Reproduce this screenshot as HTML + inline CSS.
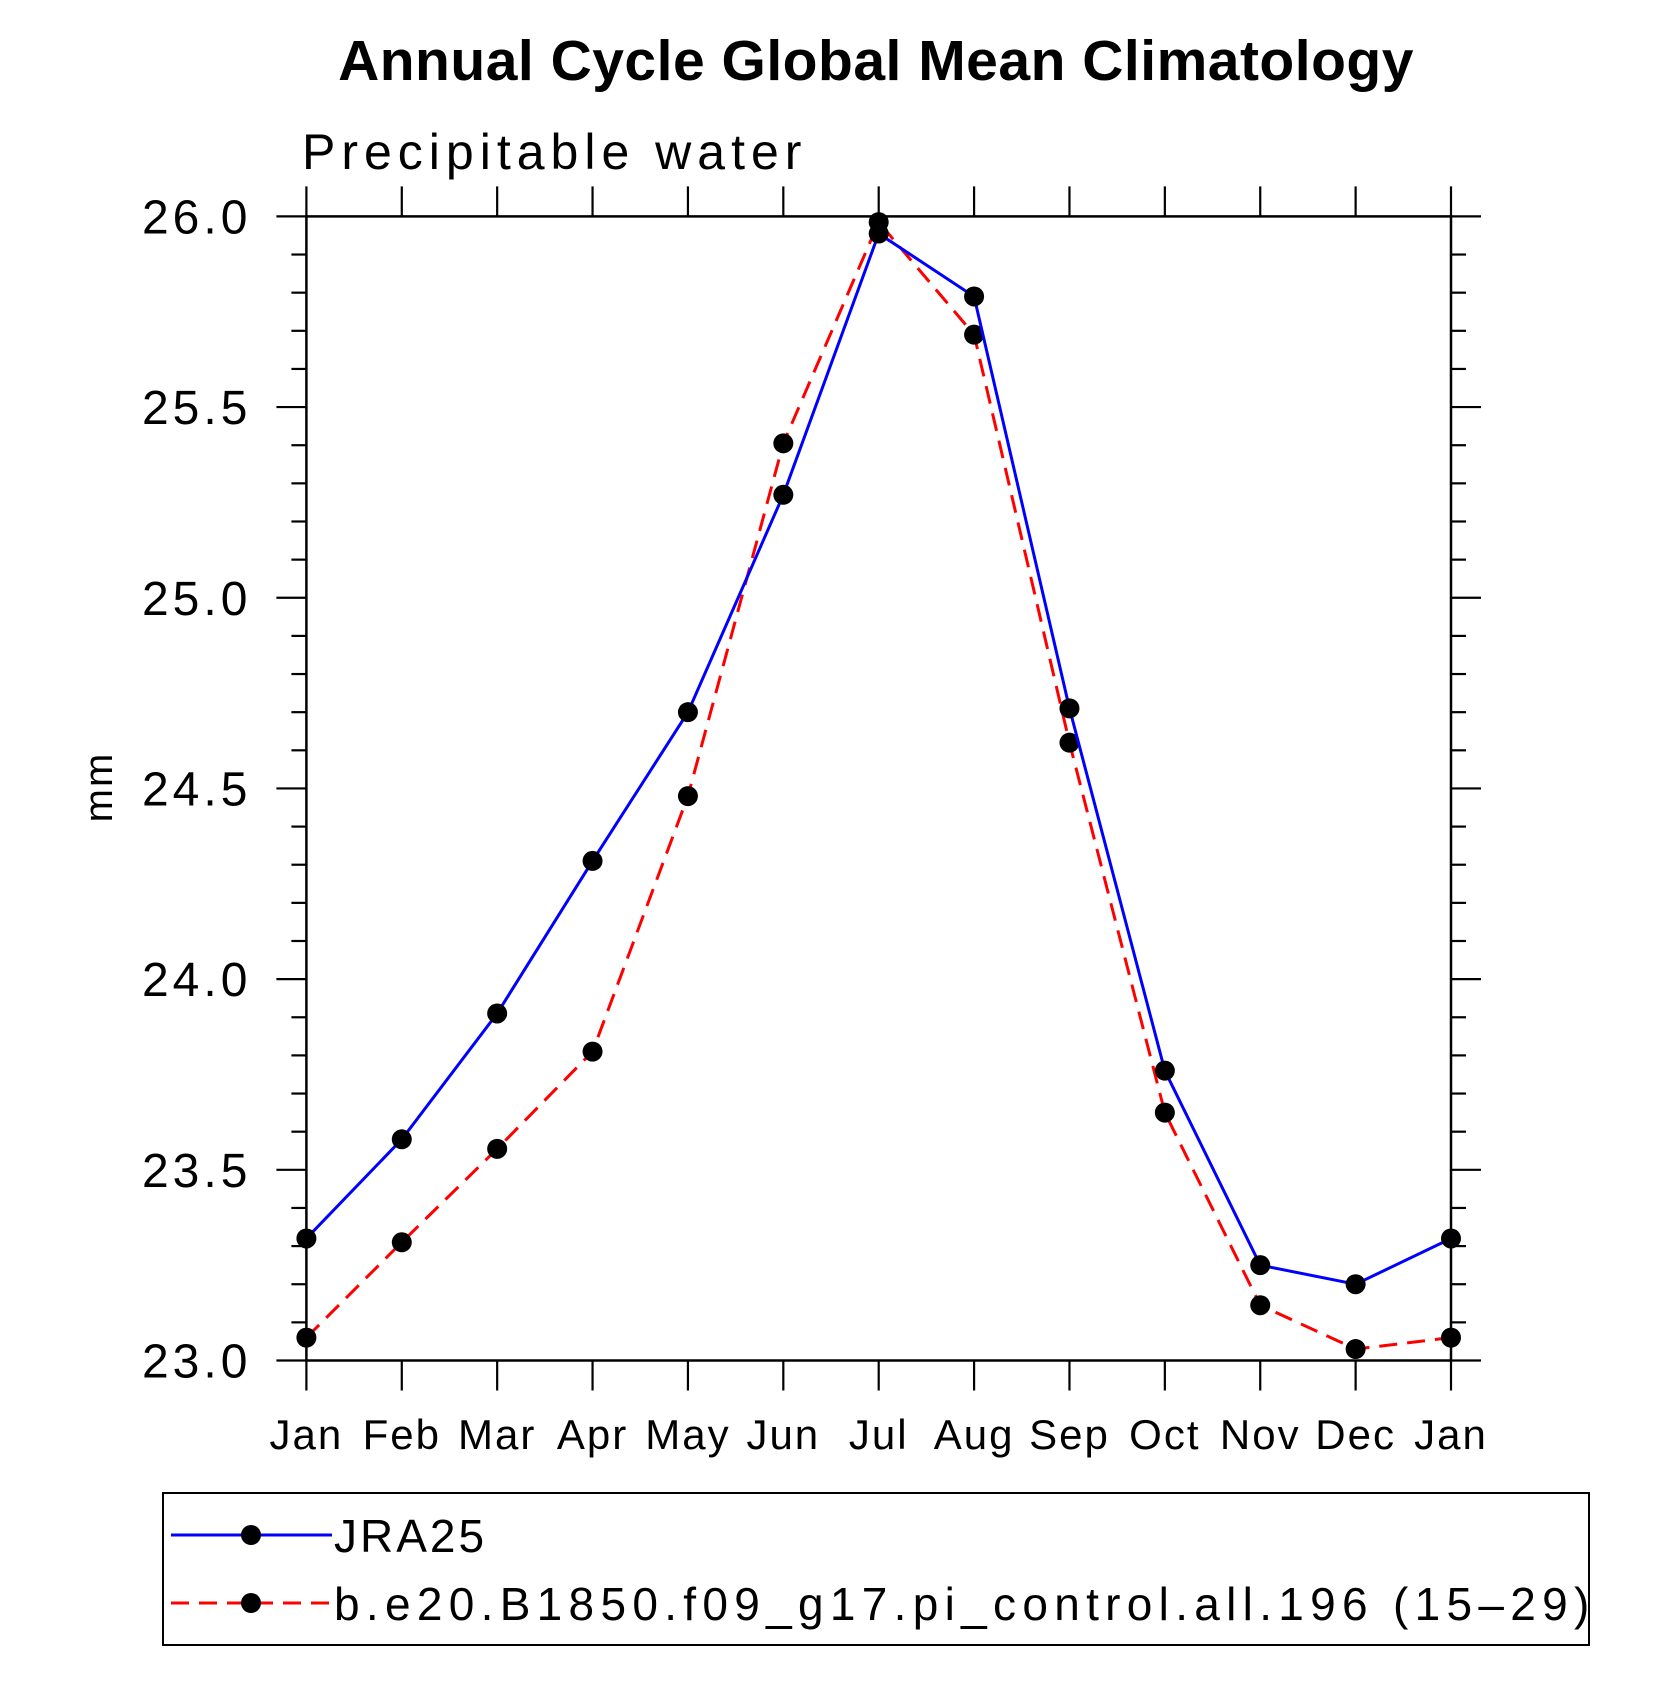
<!DOCTYPE html>
<html><head><meta charset="utf-8"><style>
html,body{margin:0;padding:0;background:#fff}
svg text{font-family:"Liberation Sans",sans-serif}
</style></head><body>
<svg id="chart" width="1680" height="1680" viewBox="0 0 1680 1680" xmlns="http://www.w3.org/2000/svg">
<text x="876" y="80" text-anchor="middle" font-size="57" font-weight="bold" letter-spacing="0.5">Annual Cycle Global Mean Climatology</text>
<text x="302" y="169" font-size="50" font-weight="300" letter-spacing="6">Precipitable water</text>
<text transform="translate(112,787) rotate(-90)" text-anchor="middle" font-size="40" letter-spacing="2">mm</text>
<g id="axes"></g>
<g id="series"></g>
<rect x="163" y="1493" width="1426" height="152" fill="none" stroke="#000" stroke-width="2"/>
<g>
<line x1="171" y1="1535" x2="332" y2="1535" stroke="#0000ff" stroke-width="3"/>
<circle cx="251" cy="1535" r="10" fill="#000"/>
<text x="334" y="1552" font-size="46" letter-spacing="3">JRA25</text>
</g>
<g>
<line x1="171" y1="1603" x2="332" y2="1603" stroke="#ff0000" stroke-width="3" stroke-dasharray="18,10"/>
<circle cx="251" cy="1603" r="10" fill="#000"/>
<text x="334" y="1620" font-size="46" letter-spacing="6.3">b.e20.B1850.f09_g17.pi_control.all.196 (15–29)</text>
</g>
</svg>
<script>
const months = ["Jan","Feb","Mar","Apr","May","Jun","Jul","Aug","Sep","Oct","Nov","Dec","Jan"];
const jra25 = [23.32,23.58,23.91,24.31,24.70,25.27,25.955,25.79,24.71,23.76,23.25,23.20,23.32];
const model = [23.06,23.31,23.555,23.81,24.48,25.405,25.985,25.69,24.62,23.65,23.145,23.03,23.06];
const yTicks = [23.0,23.5,24.0,24.5,25.0,25.5,26.0];
const yTickLabels = ["23.0","23.5","24.0","24.5","25.0","25.5","26.0"];
const NS="http://www.w3.org/2000/svg";
const L=306.4,R=1451,T=216.4,B=1360.5,ymin=23,ymax=26;
const xs=i=>L+(R-L)*i/(months.length-1);
const ys=v=>B-(B-T)*(v-ymin)/(ymax-ymin);
function mk(tag,attrs,parent){const e=document.createElementNS(NS,tag);for(const k in attrs)e.setAttribute(k,attrs[k]);parent.appendChild(e);return e;}
const ax=document.getElementById('axes');
const frame=mk('rect',{x:L,y:T,width:R-L,height:B-T,fill:'none',stroke:'#000','stroke-width':2.5},ax);


for(let v=230;v<=260;v++){
  const y=ys(v/10);const major=v%5===0;const len=major?30:15;
  const t1=mk('line',{x1:L-len,y1:y,x2:L,y2:y,stroke:'#000','stroke-width':2.2},ax);
  
  
  const t2=mk('line',{x1:R,y1:y,x2:R+len,y2:y,stroke:'#000','stroke-width':2.2},ax);
  
  
}
yTicks.forEach((v,i)=>{
  const t=mk('text',{x:L-55,y:ys(v)+17,'text-anchor':'end','font-size':48,'font-weight':300,'letter-spacing':4},ax);
  t.textContent=yTickLabels[i];
  
  
});
months.forEach((m,i)=>{
  const x=xs(i);
  const b=mk('line',{x1:x,y1:B,x2:x,y2:B+30,stroke:'#000','stroke-width':2.2},ax);
  
  
  const t=mk('line',{x1:x,y1:T-30,x2:x,y2:T,stroke:'#000','stroke-width':2.2},ax);
  
  
  const lb=mk('text',{x:x,y:1449,'text-anchor':'middle','font-size':42,'font-weight':300,'letter-spacing':2},ax);
  lb.textContent=m;
  
  
});
const sg=document.getElementById('series');
function draw(data,color,dash,name){
  const pts=data.map((v,i)=>xs(i)+','+ys(v)).join(' ');
  const pl=mk('polyline',{points:pts,fill:'none',stroke:color,'stroke-width':3},sg);
  if(dash)pl.setAttribute('stroke-dasharray',dash);
  
  
  data.forEach((v,i)=>{
    const c=mk('circle',{cx:xs(i),cy:ys(v),r:10,fill:'#000'},sg);
    
    
  });
}
draw(model,'#ff0000','18,10','model');
draw(jra25,'#0000ff',null,'jra25');
</script>
</body></html>
